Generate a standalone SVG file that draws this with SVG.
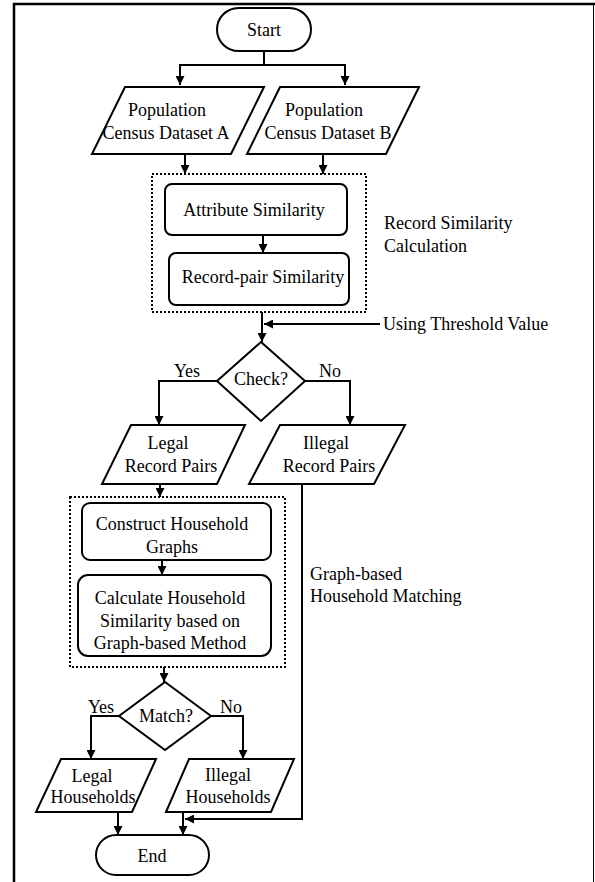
<svg xmlns="http://www.w3.org/2000/svg" width="595" height="882" viewBox="0 0 595 882">
<defs>
<marker id="arr" viewBox="0 0 10 10" refX="10" refY="5" markerWidth="9" markerHeight="9" markerUnits="userSpaceOnUse" orient="auto"><path d="M0,0 L10,5 L0,10 z" fill="#000"/></marker>
<style>
.s{fill:#fff;stroke:#000;stroke-width:2}
.dot{fill:none;stroke:#000;stroke-width:2;stroke-dasharray:2 2}
.c{fill:none;stroke:#000;stroke-width:2}
.a{marker-end:url(#arr)}
text{font-family:"Liberation Serif","Times New Roman",serif;font-size:18px;fill:#000}
.m{text-anchor:middle}
</style>
</defs>
<rect width="595" height="882" fill="#fff"/>
<g id="frame" fill="none" stroke="#000">
<path d="M14,882 V4 H595" stroke-width="2.5"/>
<path d="M593.5,4 V882" stroke-width="1"/>
</g>
<g id="groups">
<rect class="dot" x="152" y="174" width="214" height="138"/>
<rect class="dot" x="70" y="497" width="215" height="170"/>
</g>
<g id="connectors">
<path class="c a" d="M264,51 V65 H180 V85"/>
<path class="c a" d="M264,65 H345 V85"/>
<path class="c a" d="M185,154 V174"/>
<path class="c a" d="M323,154 V174"/>
<path class="c a" d="M263,235 V253"/>
<path class="c a" d="M262,312 V342"/>
<path class="c a" d="M380,324 H264"/>
<path class="c a" d="M217,381 H159 V425"/>
<path class="c a" d="M305,381 H350 V425"/>
<path class="c a" d="M160,484 V497"/>
<path class="c a" d="M162,560 V575"/>
<path class="c a" d="M164,667 V682"/>
<path class="c a" d="M119,716 H91 V759"/>
<path class="c a" d="M211,716 H243 V759"/>
<path class="c a" d="M302,484 V819 H185"/>
<path class="c a" d="M118,812 V835"/>
<path class="c a" d="M183,812 V835"/>
</g>
<g id="start">
<rect class="s" x="217" y="8" width="94" height="43" rx="21.5"/>
<text class="m" x="264" y="36">Start</text>
</g>
<g id="datasetA">
<polygon class="s" points="125,87 264,87 231,154 92,154"/>
<text class="m" x="167" y="116">Population</text>
<text class="m" x="166" y="139">Census Dataset A</text>
</g>
<g id="datasetB">
<polygon class="s" points="280,87 419,87 386,154 247,154"/>
<text class="m" x="324" y="116">Population</text>
<text class="m" x="328" y="139">Census Dataset B</text>
</g>
<g id="attribute">
<rect class="s" x="165" y="184" width="182" height="51" rx="7"/>
<text class="m" x="254" y="216">Attribute Similarity</text>
</g>
<g id="recordpair">
<rect class="s" x="169" y="253" width="180" height="52" rx="7"/>
<text class="m" x="263" y="283">Record-pair Similarity</text>
</g>
<g id="recordSimLabel">
<text x="384" y="229">Record Similarity</text>
<text x="384" y="252">Calculation</text>
</g>
<g id="threshold">
<text x="383" y="330">Using Threshold Value</text>
</g>
<g id="check">
<polygon class="s" points="261,342 305,381 261,421 217,381"/>
<text class="m" x="261" y="385">Check?</text>
<text class="m" x="187" y="377">Yes</text>
<text class="m" x="330" y="377">No</text>
</g>
<g id="legalPairs">
<polygon class="s" points="131,425 245,425 217,484 102,484"/>
<text class="m" x="168" y="449">Legal</text>
<text class="m" x="171" y="472">Record Pairs</text>
</g>
<g id="illegalPairs">
<polygon class="s" points="280,425 405,425 374,484 249,484"/>
<text class="m" x="326" y="449">Illegal</text>
<text class="m" x="329" y="472">Record Pairs</text>
</g>
<g id="construct">
<rect class="s" x="82" y="503" width="189" height="57" rx="8"/>
<text class="m" x="172" y="530">Construct Household</text>
<text class="m" x="172" y="553">Graphs</text>
</g>
<g id="calculate">
<rect class="s" x="78" y="575" width="193" height="81" rx="10"/>
<text class="m" x="170" y="604">Calculate Household</text>
<text class="m" x="170" y="627">Similarity based on</text>
<text class="m" x="170" y="649">Graph-based Method</text>
</g>
<g id="graphLabel">
<text x="310" y="580">Graph-based</text>
<text x="310" y="602">Household Matching</text>
</g>
<g id="match">
<polygon class="s" points="165,682 211,716 165,750 119,716"/>
<text class="m" x="166" y="722">Match?</text>
<text class="m" x="101" y="713">Yes</text>
<text class="m" x="231" y="713">No</text>
</g>
<g id="legalHouseholds">
<polygon class="s" points="61,759 156,759 132,812 36,812"/>
<text class="m" x="92" y="782">Legal</text>
<text class="m" x="93" y="803">Households</text>
</g>
<g id="illegalHouseholds">
<polygon class="s" points="189,759 294,759 271,812 166,812"/>
<text class="m" x="228" y="781">Illegal</text>
<text class="m" x="228" y="803">Households</text>
</g>
<g id="end">
<rect class="s" x="96" y="835" width="113" height="40" rx="20"/>
<text class="m" x="152" y="862">End</text>
</g>
</svg>
